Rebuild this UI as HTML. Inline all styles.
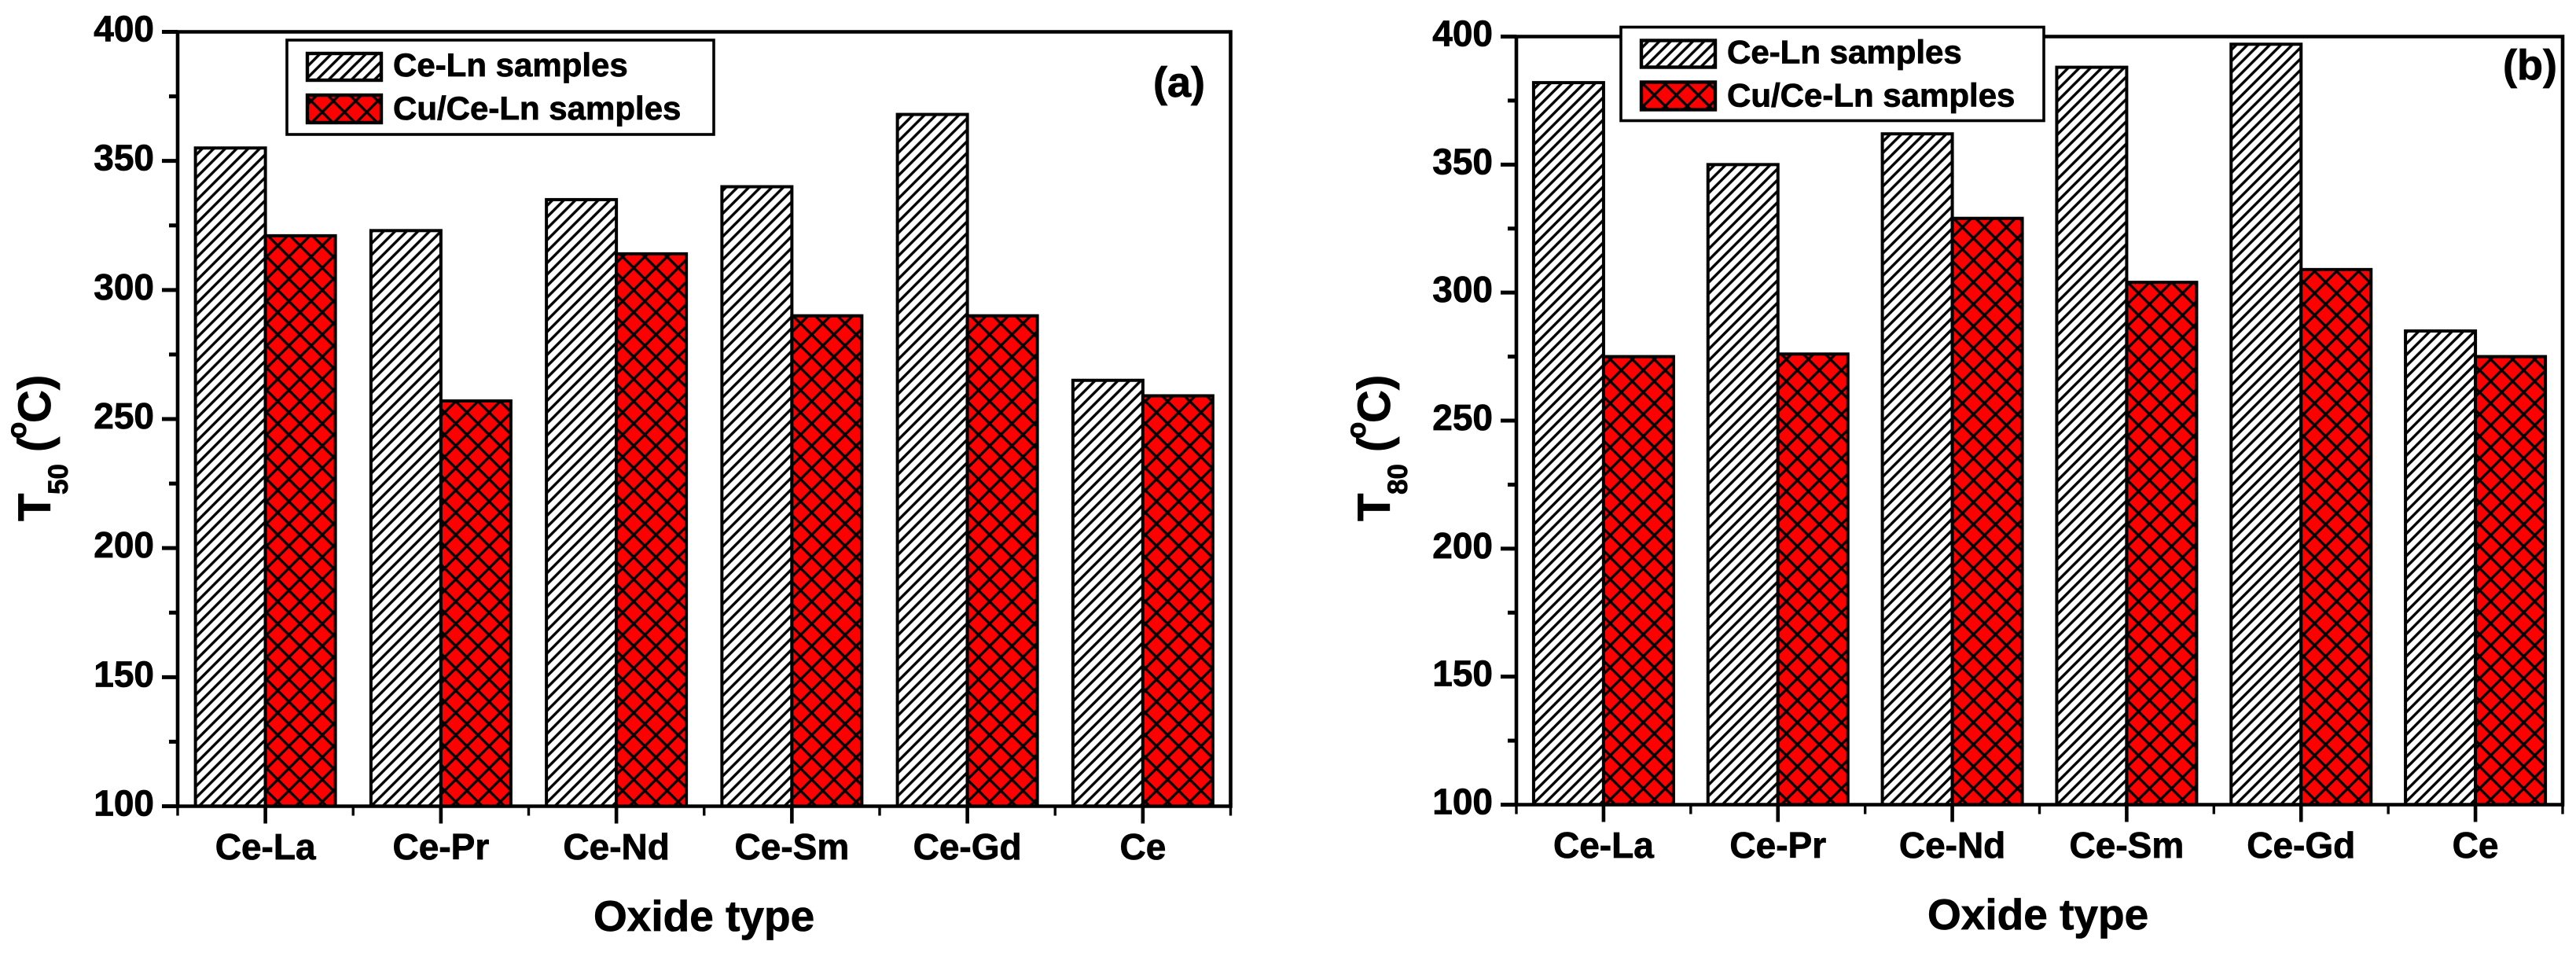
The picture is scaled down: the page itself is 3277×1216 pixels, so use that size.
<!DOCTYPE html>
<html lang="en">
<head>
<meta charset="utf-8">
<title>T50 and T80 by oxide type</title>
<style>
  html, body { margin: 0; padding: 0; background: #fff; }
  svg { display: block; }
  text { font-family: "Liberation Sans", Arial, sans-serif; font-weight: bold; fill: #000; stroke: #000; stroke-width: 0.8px; }
</style>
</head>
<body>
<svg id="figure" xmlns="http://www.w3.org/2000/svg" width="3277" height="1216" viewBox="0 0 3277 1216">
  <defs>
    <pattern id="hatch-a" patternUnits="userSpaceOnUse" width="14.6" height="14.6" patternTransform="translate(461 0)">
      <rect width="14.6" height="14.6" fill="#fff"/>
      <path d="M-1 15.6L15.6 -1M-1 1L1 -1M13.6 15.6L15.6 13.6" stroke="#000" stroke-width="3.4" fill="none"/>
    </pattern>
    <pattern id="hatch-b" patternUnits="userSpaceOnUse" width="14.2" height="14.2" patternTransform="translate(2121 0)">
      <rect width="14.2" height="14.2" fill="#fff"/>
      <path d="M-1 15.2L15.2 -1M-1 1L1 -1M13.2 15.2L15.2 13.2" stroke="#000" stroke-width="3.4" fill="none"/>
    </pattern>
    <pattern id="cross-a" patternUnits="userSpaceOnUse" width="28.3" height="28.3" patternTransform="translate(353.3 963.3)">
      <rect width="28.3" height="28.3" fill="#ff0000"/>
      <path d="M-1 -1L29.3 29.3M-1 29.3L29.3 -1M27.3 -1L29.3 1M-1 27.3L1 29.3" stroke="#000" stroke-width="3.4" fill="none"/>
    </pattern>
    <pattern id="cross-b" patternUnits="userSpaceOnUse" width="28" height="28" patternTransform="translate(2734.4 835)">
      <rect width="28" height="28" fill="#ff0000"/>
      <path d="M-1 -1L29 29M-1 29L29 -1M27 -1L29 1M-1 27L1 29" stroke="#000" stroke-width="3.4" fill="none"/>
    </pattern>
  </defs>
</svg>
<script>
const categories = ['Ce-La', 'Ce-Pr', 'Ce-Nd', 'Ce-Sm', 'Ce-Gd', 'Ce'];
const yTickValues = [100, 150, 200, 250, 300, 350, 400];
const yMinorValues = [125, 175, 225, 275, 325, 375];
const seriesNames = ['Ce-Ln samples', 'Cu/Ce-Ln samples'];
const t50CeLn = [355, 323, 335, 340, 368, 265];
const t50CuCeLn = [321, 257, 314, 290, 290, 259];
const t80CeLn = [382, 350, 362, 388, 397, 285];
const t80CuCeLn = [275, 276, 329, 304, 309, 275];

const SVG_NS = 'http://www.w3.org/2000/svg';
const figure = document.getElementById('figure');

function make(parent, tag, attrs, content) {
  const el = document.createElementNS(SVG_NS, tag);
  for (const k in attrs) el.setAttribute(k, attrs[k]);
  if (content !== undefined) el.textContent = content;
  parent.appendChild(el);
  return el;
}

function drawPanel(p) {
  const yMin = yTickValues[0];
  const yMax = yTickValues[yTickValues.length - 1];
  const yScale = v => p.bottom - (v - yMin) / (yMax - yMin) * (p.bottom - p.top);
  const step = (p.right - p.left) / categories.length;
  const xCenter = i => p.left + step * (i + 0.5);

  const panel = make(figure, 'g', {});
  
  

  categories.forEach((cat, i) => {
    const h1 = yScale(p.first[i]);
    const first = make(panel, 'rect', {
      x: xCenter(i) - p.barWidth, y: h1, width: p.barWidth, height: p.bottom - h1,
      fill: 'url(#hatch-' + p.id + ')', stroke: '#000', 'stroke-width': 4
    });
    
    

    const h2 = yScale(p.second[i]);
    const second = make(panel, 'rect', {
      x: xCenter(i), y: h2, width: p.barWidth, height: p.bottom - h2,
      fill: 'url(#cross-' + p.id + ')', stroke: '#000', 'stroke-width': 4
    });
    
    
  });

  const frame = make(panel, 'path', {
    d: 'M' + p.left + ' ' + p.bottom + 'V' + p.top + 'H' + p.right + 'V' + p.bottom + 'Z',
    fill: 'none', stroke: '#000', 'stroke-width': 4.6
  });
  
  

  yTickValues.forEach(v => {
    const tick = make(panel, 'line', {
      x1: p.left - 20, x2: p.left, y1: yScale(v), y2: yScale(v), stroke: '#000', 'stroke-width': 5
    });
    
    

    const label = make(panel, 'text', {
      x: p.left - 30, y: yScale(v) + 12, 'text-anchor': 'end', 'font-size': 46
    }, String(v));
    
    
  });

  yMinorValues.forEach(v => {
    const tick = make(panel, 'line', {
      x1: p.left - 11, x2: p.left, y1: yScale(v), y2: yScale(v), stroke: '#000', 'stroke-width': 5
    });
    
    
  });

  categories.forEach((cat, i) => {
    const tick = make(panel, 'line', {
      x1: xCenter(i), x2: xCenter(i), y1: p.bottom, y2: p.bottom + 22, stroke: '#000', 'stroke-width': 4.6
    });
    
    

    const label = make(panel, 'text', {
      x: xCenter(i), y: p.bottom + 67.5, 'text-anchor': 'middle', 'font-size': 46
    }, cat);
    
    
  });

  for (let i = 0; i <= categories.length; i++) {
    const xm = p.left + step * i;
    const minor = make(panel, 'line', {
      x1: xm, x2: xm, y1: p.bottom, y2: p.bottom + 12, stroke: '#000', 'stroke-width': 3.4
    });
    
    
  }

  const xTitle = make(panel, 'text', {
    x: p.xTitleX, y: p.xTitleY, 'font-size': 55
  }, 'Oxide type');
  
  

  const yTitle = make(panel, 'text', {
    transform: 'translate(' + p.yTitleX + ' 663) rotate(-90)', 'font-size': 58
  });
  
  
  make(yTitle, 'tspan', { x: 0, y: 0 }, 'T');
  make(yTitle, 'tspan', { x: 34, y: 22, 'font-size': 35 }, p.sub);
  make(yTitle, 'tspan', { x: 88, y: 0 }, '(');
  make(yTitle, 'tspan', { x: 105, y: -31, 'font-size': 35 }, 'o');
  make(yTitle, 'tspan', { x: 125, y: 0 }, 'C)');

  const panelLabel = make(panel, 'text', {
    x: p.tagX, y: p.tagY, 'font-size': 54
  }, '(' + p.id + ')');
  
  

  const legend = make(panel, 'g', {});
  
  

  const box = make(legend, 'rect', {
    x: p.lx, y: p.ly, width: p.lw, height: p.lh, fill: '#fff', stroke: '#000', 'stroke-width': 3.6
  });
  
  

  seriesNames.forEach((name, i) => {
    const sy = p.ly + (i === 0 ? 17 : 70);
    const fillId = (i === 0 ? 'hatch-' : 'cross-') + p.id;
    const swatch = make(legend, 'rect', {
      x: p.lx + 26, y: sy, width: 94, height: i === 0 ? 34 : 35,
      fill: 'url(#' + fillId + ')', stroke: '#000', 'stroke-width': 4.4
    });
    
    

    const entry = make(legend, 'text', {
      x: p.lx + 135, y: p.ly + (i === 0 ? 46 : 101), 'font-size': 42
    }, name);
    
    
  });
}

drawPanel({
  id: 'a', sub: '50', first: t50CeLn, second: t50CuCeLn,
  left: 226, right: 1565.5, top: 40.5, bottom: 1025.5, barWidth: 89,
  xTitleX: 755, xTitleY: 1184, yTitleX: 64, tagX: 1467, tagY: 123,
  lx: 365, ly: 51, lw: 543, lh: 120
});
drawPanel({
  id: 'b', sub: '80', first: t80CeLn, second: t80CuCeLn,
  left: 1929, right: 3260, top: 46.5, bottom: 1023.5, barWidth: 89,
  xTitleX: 2452, xTitleY: 1182, yTitleX: 1768, tagX: 3184, tagY: 101,
  lx: 2062, ly: 34.5, lw: 538, lh: 119
});
</script>
</body>
</html>
